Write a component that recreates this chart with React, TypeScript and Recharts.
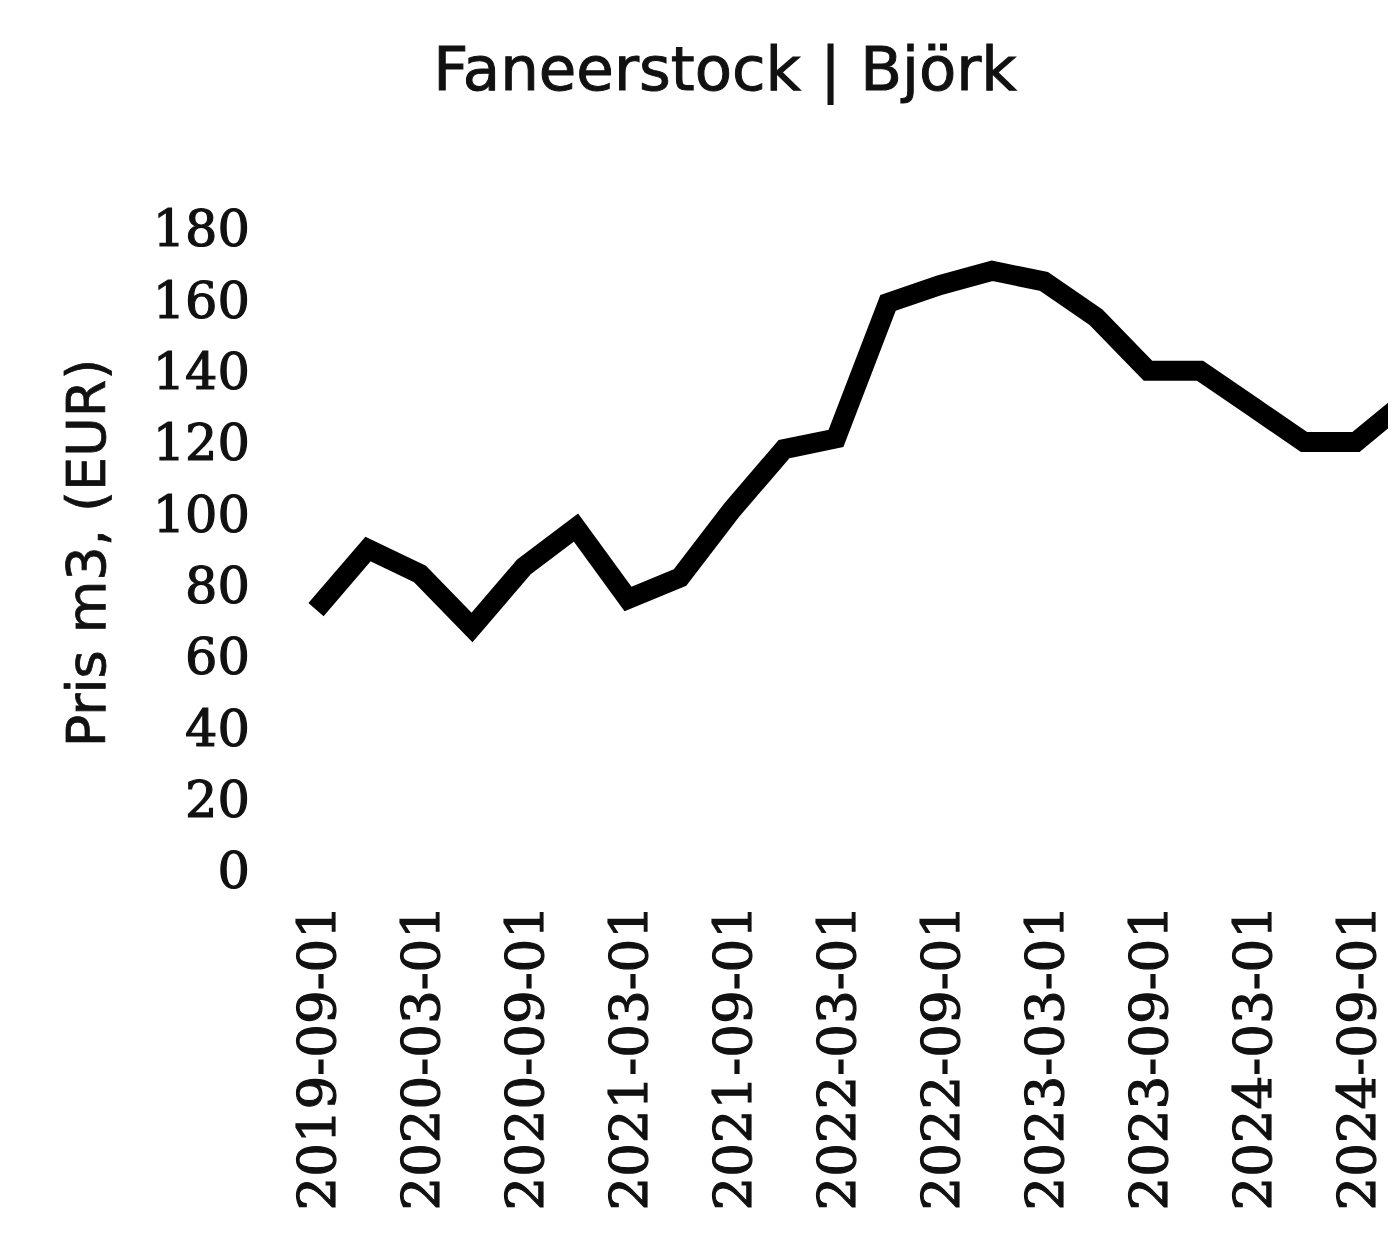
import React from "react";
import { LineChart, Line, XAxis, YAxis } from "recharts";

const categories: string[] = [
  "2019-09-01", "2019-12-01", "2020-03-01", "2020-06-01", "2020-09-01", "2020-12-01",
  "2021-03-01", "2021-06-01", "2021-09-01", "2021-12-01", "2022-03-01", "2022-06-01",
  "2022-09-01", "2022-12-01", "2023-03-01", "2023-06-01", "2023-09-01", "2023-12-01",
  "2024-03-01", "2024-06-01", "2024-09-01", "2024-12-01",
];

const prices: number[] = [
  73, 90, 83, 68, 85, 96,
  76, 82, 101, 118, 121, 159,
  164, 168, 165, 155, 140, 140,
  130, 120, 120, 132,
];

const yTicks: number[] = [0, 20, 40, 60, 80, 100, 120, 140, 160, 180];

const titleText = "Faneerstock | Björk";
const yLabelText = "Pris m3, (EUR)";

const data = categories.map((c, i) => ({ date: c, price: prices[i] }));

const XTick = (props: any) => {
  const { x, y, payload } = props;
  return (
    <text
      x={x}
      y={y}
      transform={`rotate(-90, ${x}, ${y})`}
      textAnchor="end"
      dy="0.36em"
      fontFamily="'DejaVu Serif', serif"
      fontSize={53}
      fill="#111"
      stroke="#111"
      strokeWidth={1.2}
    >
      {payload.value}
    </text>
  );
};

const YTick = (props: any) => {
  const { x, y, payload } = props;
  return (
    <text
      x={x}
      y={y}
      textAnchor="end"
      dy="0.36em"
      fontFamily="'DejaVu Serif', serif"
      fontSize={51}
      fill="#111"
      stroke="#111"
      strokeWidth={1.2}
    >
      {payload.value}
    </text>
  );
};

export default function App() {
  return (
    <div style={{ position: "relative", width: 1388, height: 1228, overflow: "hidden", background: "#fff" }}>
      <LineChart
        width={1500}
        height={1228}
        data={data}
        margin={{ top: 220, right: 100, bottom: 0, left: 0 }}
      >
        <XAxis
          dataKey="date"
          interval={1}
          axisLine={false}
          tickLine={false}
          tickSize={0}
          tickMargin={35}
          height={366}
          tick={<XTick />}
        />
        <YAxis
          domain={[0, 180]}
          ticks={yTicks}
          interval={0}
          axisLine={false}
          tickLine={false}
          tickSize={0}
          tickMargin={66}
          width={308}
          tick={<YTick />}
        />
        <Line
          type="linear"
          dataKey="price"
          stroke="#000"
          strokeWidth={20}
          dot={false}
          isAnimationActive={false}
        />
      </LineChart>
      <svg
        width={1388}
        height={1228}
        style={{ position: "absolute", left: 0, top: 0, pointerEvents: "none" }}
      >
        <text
          x={717}
          y={82}
          textAnchor="middle"
          fontFamily="'DejaVu Sans', sans-serif"
          fontSize={61}
          fill="#111"
          stroke="#111"
          strokeWidth={1}
        >
          {titleText}
        </text>
        <text
          x={78}
          y={545}
          transform="rotate(-90, 78, 545)"
          textAnchor="middle"
          dy="0.36em"
          fontFamily="'DejaVu Sans', sans-serif"
          fontSize={54}
          fill="#111"
          stroke="#111"
          strokeWidth={0.8}
        >
          {yLabelText}
        </text>
      </svg>
    </div>
  );
}
